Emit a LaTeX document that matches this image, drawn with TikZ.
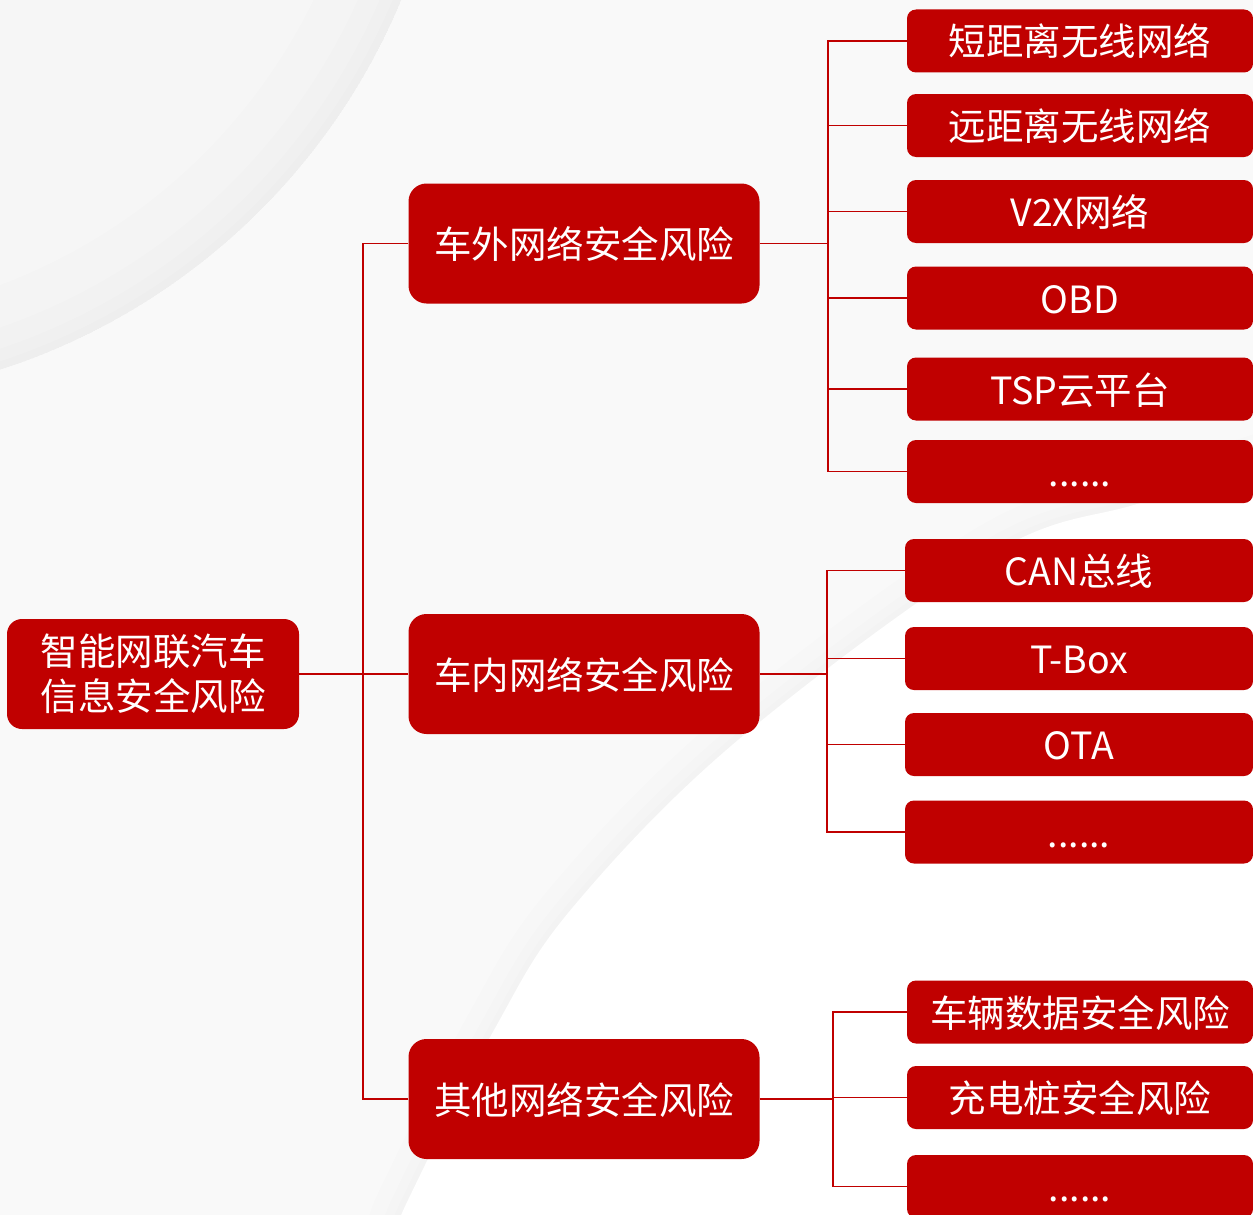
\documentclass[tikz,border=0pt]{standalone}
\usepackage{fontspec}
\setmainfont{Noto Sans CJK SC}
\definecolor{boxred}{HTML}{C00000}
\definecolor{bgcol}{HTML}{F9F9F9}
\definecolor{bgin}{HTML}{F6F6F6}
\begin{document}
\begin{tikzpicture}[x=1pt,y=-1pt,
  basebox/.style={fill=boxred, text=white, inner sep=0pt, font=\fontsize{37.5}{45}\selectfont, align=center},
  rootbox/.style={basebox, minimum width=292pt, minimum height=110pt, rounded corners=15pt},
  midbox/.style={basebox, text height=33pt, text depth=3pt, minimum width=351pt, minimum height=120pt, rounded corners=18pt},
  leafbox/.style={basebox, text height=33pt, text depth=3pt, minimum width=346pt, minimum height=63pt, rounded corners=9pt},
  link/.style={draw=boxred, line width=1.3pt},
  band/.style={draw=black, opacity=0.008}]
\useasboundingbox (0,0) rectangle (1253,1215);
% background
\fill[bgcol] (0,0) rectangle (1253,1215);
\begin{scope}
  \clip (-200,-250) circle (651pt);
  \fill[bgin] (-200,-250) circle (651pt);
  \draw[band, line width=160pt] (-200,-250) circle (651pt);
  \draw[band, line width=80pt] (-200,-250) circle (651pt);
  \draw[band, line width=40pt] (-200,-250) circle (651pt);
  \draw[band, line width=16pt] (-200,-250) circle (651pt);
\end{scope}
\def\curvepts{(1265,462) (1140,503) (993,553) (738,740) (573,907) (494,1030) (408,1200) (401,1222)}
\draw[band, line width=60pt] plot[smooth, tension=0.6] coordinates {\curvepts};
\draw[band, line width=30pt] plot[smooth, tension=0.6] coordinates {\curvepts};
\draw[band, line width=12pt] plot[smooth, tension=0.6] coordinates {\curvepts};
\fill[white] plot[smooth, tension=0.6] coordinates {\curvepts} -- (1265,1222) -- cycle;

% nodes
\node[rootbox] (root) at (153,674) {智能网联汽车\\信息安全风险};
\node[midbox] (m1) at (584,243.5) {车外网络安全风险};
\node[midbox] (m2) at (584,674) {车内网络安全风险};
\node[midbox] (m3) at (584,1099) {其他网络安全风险};

\node[leafbox] (a1) at (1080,41) {短距离无线网络};
\node[leafbox] (a2) at (1080,125.5) {远距离无线网络};
\node[leafbox] (a3) at (1080,211.5) {V2X网络};
\node[leafbox] (a4) at (1080,298) {OBD};
\node[leafbox] (a5) at (1080,389) {TSP云平台};
\node[leafbox] (a6) at (1080,471.5) {......};

\node[leafbox, minimum width=348pt] (b1) at (1079,570.5) {CAN总线};
\node[leafbox, minimum width=348pt] (b2) at (1079,658.5) {T-Box};
\node[leafbox, minimum width=348pt] (b3) at (1079,744.5) {OTA};
\node[leafbox, minimum width=348pt] (b4) at (1079,832) {......};

\node[leafbox] (c1) at (1080,1012) {车辆数据安全风险};
\node[leafbox] (c2) at (1080,1097.5) {充电桩安全风险};
\node[leafbox] (c3) at (1080,1186.5) {......};

% connectors
\coordinate (t) at (363,674);
\draw[link] (root.east) -- (m2.west);
\draw[link] (m1.west) -| (t);
\draw[link] (m3.west) -| (t);

\coordinate (j1) at (828,243.5);
\draw[link] (m1.east) -- (j1);
\foreach \n in {a1,a2,a3,a4,a5,a6} \draw[link] (\n.west) -| (j1);

\coordinate (j2) at (827,674);
\draw[link] (m2.east) -- (j2);
\foreach \n in {b1,b2,b3,b4} \draw[link] (\n.west) -| (j2);

\coordinate (j3) at (833,1099);
\draw[link] (m3.east) -- (j3);
\foreach \n in {c1,c2,c3} \draw[link] (\n.west) -| (j3);
\end{tikzpicture}
\end{document}
